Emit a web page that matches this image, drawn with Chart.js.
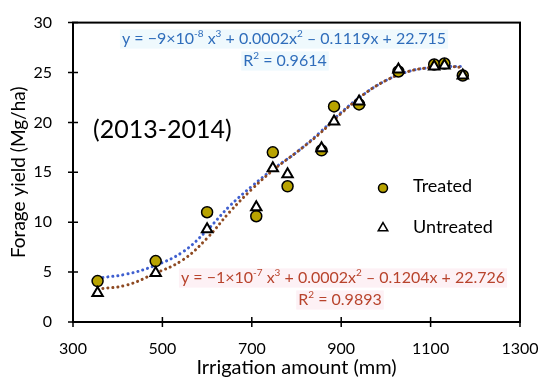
<!DOCTYPE html>
<html>
<head>
<meta charset="utf-8">
<script src="https://cdn.jsdelivr.net/npm/chart.js@4.4.0/dist/chart.umd.min.js"></script>
<style>
html, body { margin: 0; padding: 0; background: #fff; }
</style>
</head>
<body>
<canvas id="forageChart" width="550" height="382"></canvas>
<script>
const irrigation = [355, 485, 600, 710, 747, 780, 856, 884, 940, 1028, 1108, 1131, 1172]
const treatedYield = [4.1, 6.1, 11.0, 10.6, 17.0, 13.6, 17.2, 21.6, 21.8, 25.1, 25.8, 25.9, 24.7]
const untreatedYield = [2.9, 4.9, 9.3, 11.5, 15.4, 14.8, 17.4, 20.1, 22.1, 25.3, 25.6, 25.7, 24.7]

// trendlines
const trendX = [355, 420, 480, 545, 600, 650, 700, 750, 800, 850, 900, 950, 1000, 1050, 1100, 1140, 1172]
const treatedTrend = [4.4, 4.8, 5.6, 7.0, 9.2, 11.6, 13.6, 15.4, 17.0, 18.9, 21.0, 22.8, 24.2, 25.1, 25.5, 25.6, 25.6]
const untreatedTrend = [3.3, 3.7, 4.8, 6.2, 8.4, 11.0, 13.3, 15.3, 17.0, 18.8, 20.9, 22.8, 24.2, 25.1, 25.5, 25.6, 25.5]

const xTicks = [300, 500, 700, 900, 1100, 1300]
const yTicks = [0, 5, 10, 15, 20, 25, 30]

const fontFamily = 'Lato, "Open Sans", sans-serif'
const treatedColor = '#b8a300'
const treatedLineColor = '#3f5fcf'
const untreatedLineColor = '#8e4a22'
const treatedEqColor = '#2f6dbb'
const untreatedEqColor = '#b8432c'

function toPoints(xs, ys) {
    return xs.map((x, i) => ({x, y: ys[i]}))
}

function drawRich(ctx, parts, cx, cy, size, color, bg) {
    const supSize = Math.round(size * 0.62)
    let total = 0
    parts.forEach(([text, sup]) => {
        ctx.font = `${sup ? supSize : size}px ${fontFamily}`
        total += ctx.measureText(text).width
    })
    let x = cx - total / 2
    if (bg) {
        ctx.fillStyle = bg
        ctx.fillRect(x - 2, cy - size * 0.6, total + 4, size * 1.2)
    }
    ctx.fillStyle = color
    ctx.textAlign = 'left'
    ctx.textBaseline = 'middle'
    parts.forEach(([text, sup]) => {
        ctx.font = `${sup ? supSize : size}px ${fontFamily}`
        ctx.fillText(text, x, sup ? cy - size * 0.32 : cy)
        x += ctx.measureText(text).width
    })
}

const frameAndNotes = {
    id: 'frameAndNotes',
    afterDraw(chart) {
        const ctx = chart.ctx
        const area = chart.chartArea
        const xs = chart.scales.x
        const ys = chart.scales.y
        ctx.save()
        ctx.strokeStyle = '#000'
        ctx.lineWidth = 2
        ctx.strokeRect(area.left, area.top, area.right - area.left, area.bottom - area.top)
        ctx.lineWidth = 1.5
        ctx.beginPath()
        xTicks.forEach(v => {
            const px = xs.getPixelForValue(v)
            ctx.moveTo(px, area.bottom - 5)
            ctx.lineTo(px, area.bottom + 5)
        })
        yTicks.forEach(v => {
            const py = ys.getPixelForValue(v)
            ctx.moveTo(area.left - 5, py)
            ctx.lineTo(area.left + 5, py)
        })
        ctx.stroke()

        // period label
        ctx.fillStyle = '#000'
        ctx.font = `25px ${fontFamily}`
        ctx.textAlign = 'left'
        ctx.textBaseline = 'middle'
        ctx.fillText('(2013-2014)', 93, 130)

        // legend
        const lx = 383
        ctx.fillStyle = treatedColor
        ctx.strokeStyle = '#000'
        Chart.helpers.drawPoint(ctx, {pointStyle: 'circle', radius: 4.5, rotation: 0, borderWidth: 1.5}, lx, 188)
        ctx.fillStyle = '#fff'
        Chart.helpers.drawPoint(ctx, {pointStyle: 'triangle', radius: 5.5, rotation: 0, borderWidth: 2}, lx, 228)
        ctx.fillStyle = '#000'
        ctx.font = `18px ${fontFamily}`
        ctx.textAlign = 'left'
        ctx.textBaseline = 'middle'
        ctx.fillText('Treated', 413, 186)
        ctx.fillText('Untreated', 413, 227)

        // trendline equations
        drawRich(ctx, [['y = −9×10', 0], ['-8', 1], [' x', 0], ['3', 1], [' + 0.0002x', 0], ['2', 1], [' – 0.1119x + 22.715', 0]],
            284, 39, 16, treatedEqColor, '#eff9fd')
        drawRich(ctx, [['R', 0], ['2', 1], [' = 0.9614', 0]], 285, 61, 16, treatedEqColor, '#eff9fd')
        drawRich(ctx, [['y = −1×10', 0], ['-7', 1], [' x', 0], ['3', 1], [' + 0.0002x', 0], ['2', 1], [' – 0.1204x + 22.726', 0]],
            343, 278, 16, untreatedEqColor, '#fdf1f5')
        drawRich(ctx, [['R', 0], ['2', 1], [' = 0.9893', 0]], 340, 300, 16, untreatedEqColor, '#fdf1f5')
        ctx.restore()
    },
}

new Chart(document.getElementById('forageChart'), {
    type: 'scatter',
    plugins: [frameAndNotes],
    data: {
        datasets: [
            {
                label: 'Treated trend',
                type: 'line',
                data: toPoints(trendX, treatedTrend),
                borderColor: treatedLineColor,
                borderWidth: 3,
                borderDash: [0.1, 5],
                borderCapStyle: 'round',
                pointRadius: 0,
                tension: 0.4,
                fill: false,
                order: 3,
            },
            {
                label: 'Untreated trend',
                type: 'line',
                data: toPoints(trendX, untreatedTrend),
                borderColor: untreatedLineColor,
                borderWidth: 3,
                borderDash: [0.1, 5],
                borderCapStyle: 'round',
                pointRadius: 0,
                tension: 0.4,
                fill: false,
                order: 2,
            },
            {
                label: 'Treated',
                data: toPoints(irrigation, treatedYield),
                pointStyle: 'circle',
                pointRadius: 5.5,
                backgroundColor: treatedColor,
                borderColor: '#000',
                borderWidth: 1.5,
                order: 1,
            },
            {
                label: 'Untreated',
                data: toPoints(irrigation, untreatedYield),
                pointStyle: 'triangle',
                pointRadius: 6,
                backgroundColor: '#fff',
                borderColor: '#000',
                borderWidth: 2,
                order: 0,
            },
        ],
    },
    options: {
        responsive: false,
        animation: false,
        layout: {padding: {top: 20, right: 30, left: 0, bottom: 0}},
        plugins: {
            legend: {display: false},
            tooltip: {enabled: false},
        },
        scales: {
            x: {
                type: 'linear',
                min: 300,
                max: 1300,
                afterFit: scale => { scale.height = 60 },
                afterBuildTicks: scale => { scale.ticks = xTicks.map(value => ({value})) },
                grid: {display: false},
                border: {display: false},
                ticks: {color: '#000', font: {family: fontFamily, size: 16}, padding: 9,
                    callback: value => String(value)},
                title: {display: true, text: 'Irrigation amount (mm)', color: '#000',
                    font: {family: fontFamily, size: 20}, padding: {top: 0, bottom: 2}},
            },
            y: {
                min: 0,
                max: 30,
                afterFit: scale => { scale.width = 73 },
                afterBuildTicks: scale => { scale.ticks = yTicks.map(value => ({value})) },
                grid: {display: false},
                border: {display: false},
                ticks: {color: '#000', font: {family: fontFamily, size: 16}, padding: 13},
                title: {display: true, text: 'Forage yield (Mg/ha)', color: '#000',
                    font: {family: fontFamily, size: 19}, padding: {top: 7, bottom: 0}},
            },
        },
    },
})
</script>
</body>
</html>
